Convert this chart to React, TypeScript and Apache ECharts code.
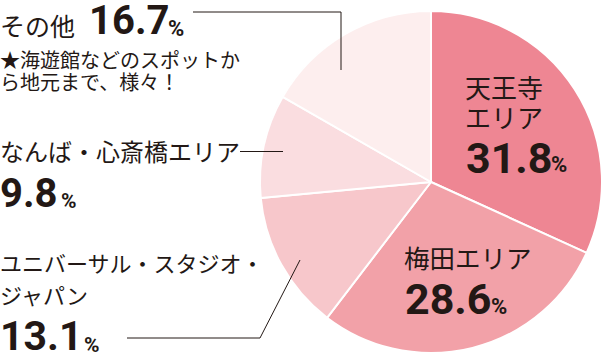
import React, { useEffect, useRef } from "react";
import * as echarts from "echarts";

const categories = ["天王寺エリア", "梅田エリア", "ユニバーサル・スタジオ・ジャパン", "なんば・心斎橋エリア", "その他"];
const values = [31.8, 28.6, 13.1, 9.8, 16.7];
const colors = ["#EE8693", "#F2A1A8", "#F7C7CB", "#FADDE0", "#FDEEEE"];
const noteText = "★海遊館などのスポットか\nら地元まで、様々！";

const INK = "#231815";
const JP = '"Noto Sans CJK JP", "Noto Sans", sans-serif';
const NUM = 'Roboto, "Liberation Sans", sans-serif';

function txt(text: string, x: number, y: number, fontSize: number, opts: any = {}) {
  return {
    type: "text",
    x,
    y,
    z: 100,
    silent: true,
    style: {
      text,
      fill: INK,
      fontSize,
      fontFamily: opts.num ? NUM : JP,
      fontWeight: opts.num ? "bold" : "normal",
      align: "left",
      verticalAlign: "middle",
      lineHeight: opts.lineHeight || (opts.num ? Math.round(fontSize * 0.8) : undefined),
    },
  };
}

function numParts(v: number, x: number, y: number, size: number, pctX: number, pctY: number, pctSize: number) {
  return [
    txt(v.toFixed(1), x, y, size, { num: true }),
    txt("%", pctX, pctY, pctSize, { num: true }),
  ];
}

export default function App() {
  const ref = useRef<HTMLDivElement>(null);
  useEffect(() => {
    if (!ref.current) return;
    const chart = echarts.init(ref.current, null, { renderer: "svg" });
    const line = (points: number[][]) => ({
      type: "polyline",
      z: 100,
      silent: true,
      shape: { points },
      style: { stroke: INK, lineWidth: 1, fill: "none" },
    });
    chart.setOption({
      animation: false,
      series: [
        {
          type: "pie",
          center: [431, 182],
          radius: [0, 171],
          startAngle: 90,
          clockwise: true,
          silent: true,
          label: { show: false },
          labelLine: { show: false },
          emphasis: { disabled: true },
          itemStyle: { borderColor: "#ffffff", borderWidth: 2 },
          data: categories.map((name, i) => ({ name, value: values[i], itemStyle: { color: colors[i] } })),
        },
      ],
      graphic: [
        // その他
        txt("その他", 0, 25, 25),
        ...numParts(values[4], 89, 20.5, 40, 168, 28, 22),
        txt(noteText, 0, 70, 20, { lineHeight: 22 }),
        line([[193, 12], [341, 12], [341, 70]]),
        // なんば・心斎橋
        txt("なんば・心斎橋エリア", 0, 150, 24),
        line([[240, 151.5], [283, 151.5]]),
        ...numParts(values[3], 0, 193, 40, 61, 200.5, 21),
        // USJ
        txt("ユニバーサル・スタジオ・\nジャパン", 0, 278, 22, { lineHeight: 32 }),
        ...numParts(values[2], 0, 336, 41, 84, 344.5, 21),
        line([[127, 338], [260, 338], [300, 260]]),
        // 天王寺
        txt("天王寺\nエリア", 465, 101, 26, { lineHeight: 30 }),
        ...numParts(values[0], 466, 157.5, 43, 551, 164.5, 22),
        // 梅田
        txt("梅田エリア", 404, 256.5, 25.5),
        ...numParts(values[1], 405, 299, 43, 491, 306.5, 22),
      ],
    });
    return () => chart.dispose();
  }, []);
  return (
    <div
      ref={ref}
      style={{ position: "fixed", left: 0, top: 0, width: 604, height: 358, background: "#ffffff" }}
    />
  );
}
